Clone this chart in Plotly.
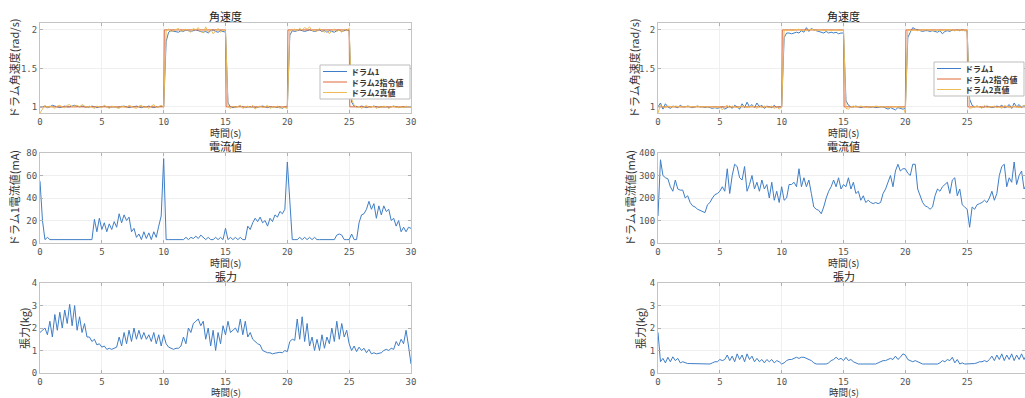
import numpy as np
import plotly.graph_objects as go

# ---------------- data (sampled every 0.2 s, 0..30 s) ----------------
t = np.round(np.arange(0, 30.0001, 0.2), 2)

cmd_t = [0, 10.0, 10.05, 15.0, 15.05, 20.0, 20.05, 25.0, 25.05, 30]
cmd_v = [1, 1, 2, 2, 1, 1, 2, 2, 1, 1]

# Left column (case A)
wA_d1 = [1.00,1.00,1.01,0.99,1.00,1.02,1.01,1.00,0.99,1.00,
         1.01,1.00,1.00,1.01,1.02,1.01,1.00,1.01,1.00,0.99,
         1.00,1.01,1.00,0.99,1.00,1.00,1.01,1.00,0.99,1.00,
         1.00,0.99,1.00,1.00,1.01,1.00,0.99,1.00,1.00,1.01,
         1.00,0.99,1.00,1.00,1.01,1.00,0.99,1.00,1.00,1.01,
         1.00,
         1.85,1.97,1.99,1.98,1.98,1.97,1.99,1.98,2.00,1.99,1.98,1.99,2.00,1.99,1.98,1.97,1.98,1.96,1.99,2.00,1.98,1.97,1.99,1.98,1.97,
         1.05,1.00,0.99,1.00,1.00,1.01,1.00,0.99,1.00,1.00,1.00,0.99,1.00,1.00,1.01,1.00,0.99,1.00,1.00,0.99,1.00,1.00,0.98,1.00,1.00,
         1.93,1.99,1.98,1.99,2.00,1.99,1.98,1.99,2.00,1.99,1.98,1.99,2.00,1.98,1.99,1.97,1.99,1.98,1.97,1.99,2.00,1.98,1.99,2.00,1.99,
         1.06,1.01,1.00,1.00,1.01,1.00,0.99,1.00,1.00,1.01,1.00,0.99,1.00,1.00,1.00,0.99,1.00,1.01,1.00,0.99,1.00,1.00,1.00,1.00,1.00]
wA_d2 = [0.92,0.98,1.02,0.99,1.01,1.00,0.98,1.01,1.02,1.00,
         0.99,1.02,1.03,1.00,1.01,1.02,1.00,1.03,1.01,0.99,
         1.01,1.00,0.98,1.01,1.00,0.99,1.02,1.00,0.98,1.01,
         1.00,0.99,0.98,1.01,1.00,0.99,1.02,1.00,0.99,0.98,
         1.01,1.02,0.99,1.00,0.98,1.01,1.03,0.99,1.00,1.02,
         1.00,
         1.99,2.01,1.98,1.99,2.00,2.02,1.98,2.00,2.01,1.99,1.97,2.02,2.00,2.03,1.98,1.96,2.04,1.97,2.01,1.95,1.99,2.02,1.97,2.00,1.99,
         1.00,0.98,1.01,0.99,1.00,1.02,0.98,1.00,1.01,0.99,1.02,0.97,1.00,1.01,0.99,1.00,1.02,0.98,1.00,0.99,1.01,0.98,1.00,0.99,0.98,
         1.99,2.00,2.01,1.99,2.02,2.00,2.03,2.01,2.04,1.99,2.00,1.98,2.02,1.99,1.97,2.00,1.95,1.99,2.01,1.98,2.00,1.97,2.01,1.99,2.02,
         1.10,1.02,0.99,1.01,0.98,1.00,1.02,0.99,1.00,1.01,0.98,1.00,0.99,1.01,1.00,0.98,1.00,1.01,0.99,1.00,1.00,0.99,1.01,1.00,0.99]
iA = [55,20,3,5,3,3,3,3,3,3,
      3,3,3,3,3,3,3,3,3,3,
      3,3,21,10,22,12,18,10,17,12,
      19,14,26,18,25,20,23,10,13,5,
      8,3,10,4,9,3,10,5,15,24,
      75,3,3,3,3,3,3,3,3,5,
      3,5,4,6,4,7,5,3,5,3,
      3,5,3,5,3,13,3,5,3,5,
      3,5,3,3,15,12,18,22,19,23,
      18,20,15,22,19,25,23,28,26,30,
      72,40,3,3,3,5,3,5,3,5,
      3,5,3,3,3,3,3,3,3,3,
      7,8,7,3,3,3,8,3,3,18,
      25,26,30,37,30,35,22,33,25,33,
      28,30,20,22,15,20,10,14,10,14,
      13]
fA = [1.8,1.9,2.0,1.7,2.3,1.6,2.6,1.9,2.7,2.0,
      2.8,2.2,3.05,2.1,3.0,1.9,2.5,1.8,2.2,1.6,
      1.6,1.4,1.5,1.25,1.3,1.15,1.2,1.05,1.1,1.05,
      1.1,1.15,1.6,1.2,1.8,1.3,1.9,1.4,2.0,1.5,
      1.9,1.5,1.8,1.5,1.7,1.4,1.8,1.3,1.7,1.2,
      1.7,1.3,1.15,1.1,1.05,1.1,1.1,1.2,1.6,1.3,
      2.0,1.8,2.2,2.3,2.4,2.1,2.3,1.5,2.0,1.2,
      1.9,1.0,1.8,1.3,2.1,1.7,2.3,1.8,1.9,2.0,
      1.8,2.4,1.7,2.3,1.6,1.8,1.5,1.4,1.3,1.25,
      1.0,0.95,0.9,0.9,0.85,0.88,0.9,0.92,0.9,1.0,
      0.95,1.4,1.5,1.45,2.4,1.5,2.5,1.4,2.2,1.2,
      1.6,1.0,1.5,1.0,1.7,1.1,1.6,1.3,2.0,1.4,
      2.3,1.5,2.2,1.6,1.9,1.3,1.0,1.2,0.95,1.15,
      1.0,1.1,0.9,1.05,0.85,0.9,0.85,0.88,0.9,1.0,
      1.05,1.0,1.1,1.05,1.4,1.2,1.5,1.3,1.9,1.2,
      0.4]

# Right column (case B)
wB_d1 = [1.00,1.05,0.97,1.04,1.00,0.98,1.01,1.00,0.99,1.02,
         1.00,1.00,1.01,1.00,0.99,1.00,1.01,1.00,1.00,0.99,
         1.00,0.99,0.98,0.99,0.98,0.99,1.00,0.97,0.99,1.01,
         0.98,1.02,1.00,0.97,1.04,0.99,1.06,1.00,1.03,0.99,
         1.05,1.00,1.02,0.98,1.01,1.00,0.99,1.02,0.99,1.00,
         1.00,
         1.90,1.96,1.96,1.95,1.96,1.97,1.96,1.99,1.97,2.03,1.98,2.02,2.00,1.99,1.98,1.97,1.96,1.98,1.96,1.97,1.96,1.97,1.95,1.96,1.96,
         1.08,1.02,1.00,1.00,1.01,1.00,0.99,1.00,1.00,0.99,1.00,1.00,0.99,1.00,1.00,1.00,0.98,0.97,0.99,0.98,0.96,0.99,0.98,0.97,0.98,
         1.90,1.97,2.03,2.01,2.00,1.99,1.98,1.99,1.99,1.98,1.99,1.98,1.97,1.99,1.95,1.98,1.99,1.98,2.00,1.99,2.00,1.99,2.00,1.99,1.99,
         1.10,1.02,1.00,1.01,1.00,0.99,1.00,1.01,1.00,0.99,1.00,1.01,1.00,1.02,0.99,1.00,1.03,0.98,1.05,1.00,1.03,0.99,1.02,1.00,1.01]
wB_d2 = [0.92,1.02,1.00,0.99,1.01,1.00,1.00,1.01,1.00,1.00,
         1.00,1.00,1.01,1.00,1.00,1.00,1.01,1.00,1.00,1.00,
         1.00,1.00,1.00,0.99,1.00,1.00,0.96,1.00,1.02,0.99,
         1.01,1.00,0.99,1.00,1.01,1.00,0.99,1.00,1.01,1.00,
         0.98,1.02,0.99,1.01,1.00,0.99,1.01,0.98,1.00,0.97,
         1.00,
         2.00,1.99,2.00,1.99,2.00,2.00,2.01,1.99,2.00,1.99,2.00,2.01,2.00,1.99,2.00,2.00,1.99,2.00,2.00,1.99,2.00,2.00,1.99,2.00,2.00,
         0.98,0.97,1.00,1.01,1.00,1.00,1.01,1.00,1.00,0.99,1.00,1.00,1.01,1.00,1.00,1.00,1.00,0.99,1.00,1.00,1.00,1.00,0.99,1.00,0.92,
         2.00,1.99,2.00,2.00,1.99,2.00,2.00,2.00,2.00,2.00,1.99,2.00,2.00,1.99,2.00,2.00,2.00,2.00,2.00,1.99,2.00,2.00,1.99,2.00,2.00,
         0.98,0.99,1.00,1.01,1.00,0.98,1.02,0.99,1.00,1.00,1.01,0.99,1.00,0.98,1.02,1.00,0.99,1.00,1.01,1.00,0.99,1.00,1.02,1.00,1.00]
iB = [120,370,300,290,285,250,230,280,240,235,
      235,200,210,180,165,160,150,145,140,135,
      170,180,200,215,220,230,250,230,330,220,
      300,350,340,290,280,340,230,260,300,240,
      270,230,280,240,260,200,270,190,230,180,
      250,190,200,260,260,270,250,330,250,290,
      250,280,220,160,150,145,130,160,200,230,
      250,280,250,290,240,260,250,290,240,270,
      220,230,190,210,180,190,180,175,180,175,
      180,220,240,270,300,250,320,350,320,330,
      330,310,300,350,350,240,210,180,165,160,
      150,160,210,240,230,250,260,270,220,280,
      290,210,240,170,160,150,70,160,150,170,
      175,180,190,180,200,230,190,220,300,340,
      350,250,290,270,360,260,300,320,240,260,
      230]
fB = [1.8,0.5,0.65,0.45,0.7,0.5,0.72,0.55,0.65,0.45,
      0.5,0.45,0.42,0.42,0.42,0.4,0.4,0.4,0.4,0.4,
      0.4,0.4,0.45,0.5,0.5,0.6,0.55,0.6,0.8,0.55,
      0.75,0.5,0.85,0.6,0.8,0.5,0.85,0.6,0.75,0.5,
      0.65,0.5,0.6,0.45,0.6,0.5,0.6,0.45,0.55,0.5,
      0.4,0.45,0.55,0.6,0.6,0.65,0.7,0.65,0.7,0.7,
      0.65,0.6,0.55,0.45,0.4,0.4,0.4,0.4,0.4,0.45,
      0.55,0.6,0.7,0.6,0.65,0.55,0.7,0.55,0.6,0.5,
      0.45,0.4,0.4,0.4,0.4,0.4,0.4,0.4,0.4,0.45,
      0.5,0.55,0.55,0.6,0.65,0.6,0.75,0.6,0.7,0.85,
      0.8,0.6,0.55,0.5,0.55,0.5,0.45,0.4,0.4,0.4,
      0.4,0.4,0.4,0.4,0.45,0.55,0.5,0.6,0.55,0.7,
      0.45,0.6,0.4,0.45,0.4,0.4,0.4,0.4,0.42,0.45,
      0.5,0.5,0.55,0.5,0.6,0.75,0.55,0.8,0.6,0.85,
      0.55,0.8,0.6,0.85,0.55,0.8,0.6,0.85,0.6,0.8,
      0.7]

legend_names = ["ドラム1", "ドラム2指令値", "ドラム2真値"]
titles = ["角速度", "電流値", "張力"]
xlabel = "時間(s)"
ylabels = ["ドラム角速度(rad/s)", "ドラム1電流値(mA)", "張力(kg)"]
yranges_A = [[0.92, 2.09], [0, 80], [0, 4]]
yranges_B = [[0.92, 2.09], [0, 400], [0, 4]]
yticks_A = [[1, 1.5, 2], [0, 20, 40, 60, 80], [0, 1, 2, 3, 4]]
yticks_B = [[1, 1.5, 2], [0, 100, 200, 300, 400], [0, 1, 2, 3, 4]]
xticks = [0, 5, 10, 15, 20, 25, 30]

# ---------------- layout geometry / style ----------------
W, H = 1025, 398
BLUE, ORANGE, YELLOW = "#3f7ec6", "#e0683a", "#eebb55"
COLORS = [BLUE, ORANGE, YELLOW]
FONT = "Noto Sans CJK JP"

col_px = [(40, 411), (658, 1029)]          # pixel span of x = 0..30 in each column
rows_px = [(23, 113), (153, 243), (283, 373)]
ydoms = [[1 - b / H, 1 - a / H] for a, b in rows_px]

fig = go.Figure()

def ax_id(col, row):
    return col * 3 + row + 1

def add_line(x, y, color, col, row, name=None):
    n = ax_id(col, row)
    fig.add_trace(go.Scatter(
        x=x, y=y, mode="lines", line=dict(color=color, width=1),
        xaxis="x" if n == 1 else f"x{n}", yaxis="y" if n == 1 else f"y{n}",
        name=name, showlegend=False, hoverinfo="skip"))

for col, (d1, d2, cur, ten) in enumerate([(wA_d1, wA_d2, iA, fA),
                                          (wB_d1, wB_d2, iB, fB)]):
    add_line(t, d1, BLUE, col, 0, legend_names[0])
    add_line(cmd_t, cmd_v, ORANGE, col, 0, legend_names[1])
    add_line(t, d2, YELLOW, col, 0, legend_names[2])
    add_line(t, cur, BLUE, col, 1)
    add_line(t, ten, BLUE, col, 2)

layout = dict(width=W, height=H, margin=dict(l=0, r=0, t=0, b=0, autoexpand=False),
              paper_bgcolor="white", plot_bgcolor="white",
              font=dict(family=FONT, size=10, color="#333333"),
              showlegend=False, annotations=[], shapes=[])

axis_common = dict(showline=True, linecolor="#c4c4c4", linewidth=1, mirror="allticks",
                   ticks="inside", ticklen=3, tickcolor="#b0b0b0", automargin=False,
                   showgrid=True, gridcolor="#efefef", gridwidth=1, zeroline=False,
                   tickfont=dict(family="DejaVu Sans Mono", size=9, color="#555555"))

xlabel_gap = [19, 19, 19]
xlabel_size = [10, 10, 9.5]
for col in range(2):
    x0p, x30p = col_px[col]
    xdom = [x0p / W, min(x30p, W) / W]
    xr = [0, 30 * (min(x30p, W) - x0p) / (x30p - x0p)]
    yrs = yranges_A if col == 0 else yranges_B
    yts = yticks_A if col == 0 else yticks_B
    cx = (x0p + x30p) / 2 / W
    for row in range(3):
        n = ax_id(col, row)
        xs = "xaxis" if n == 1 else f"xaxis{n}"
        ys = "yaxis" if n == 1 else f"yaxis{n}"
        layout[xs] = dict(axis_common, domain=xdom, range=xr, tickvals=xticks,
                          anchor="y" if n == 1 else f"y{n}")
        layout[ys] = dict(axis_common, domain=ydoms[row], range=yrs[row], tickvals=yts[row],
                          anchor="x" if n == 1 else f"x{n}")
        top_px, bot_px = rows_px[row]
        layout["annotations"].append(dict(
            text=titles[row], x=cx, y=1 - (top_px - 7) / H, xref="paper", yref="paper",
            showarrow=False, font=dict(size=11, color="#222222"), xanchor="center", yanchor="middle"))
        layout["annotations"].append(dict(
            text=xlabel, x=cx, y=1 - (bot_px + xlabel_gap[row]) / H, xref="paper", yref="paper",
            showarrow=False, font=dict(size=xlabel_size[row], color="#333333"),
            xanchor="center", yanchor="middle"))
        ylx = [[14, 14, 24], [634, 630, 640]][col][row]
        layout["annotations"].append(dict(
            text=ylabels[row], x=ylx / W, y=1 - (top_px + bot_px) / 2 / H, xref="paper", yref="paper",
            showarrow=False, textangle=-90, font=dict(size=11, color="#333333"),
            xanchor="center", yanchor="middle"))

# compact MATLAB-style legends (box, line samples, labels) in pixel positions
legend_boxes = [(320, 65, 410, 99), (934, 62, 1024, 96)]
for (bx0, by0, bx1, by1) in legend_boxes:
    layout["shapes"].append(dict(type="rect", xref="paper", yref="paper",
                                 x0=bx0 / W, x1=bx1 / W, y0=1 - by1 / H, y1=1 - by0 / H,
                                 fillcolor="white", line=dict(color="#bdbdbd", width=1), layer="above"))
    for k, (name, colr) in enumerate(zip(legend_names, COLORS)):
        yy = by0 + 6.5 + k * 10.5
        layout["shapes"].append(dict(type="line", xref="paper", yref="paper",
                                     x0=(bx0 + 3) / W, x1=(bx0 + 27) / W, y0=1 - yy / H, y1=1 - yy / H,
                                     line=dict(color=colr, width=1), layer="above"))
        layout["annotations"].append(dict(
            text="<b>" + name + "</b>", x=(bx0 + 29) / W, y=1 - yy / H, xref="paper", yref="paper",
            showarrow=False, xanchor="left", yanchor="middle",
            font=dict(size=8, color="#333333")))

fig.update_layout(**layout)
fig.write_html("out.html", config={"displayModeBar": False},
               post_script="document.body.style.margin='0';document.body.style.overflow='hidden';")
